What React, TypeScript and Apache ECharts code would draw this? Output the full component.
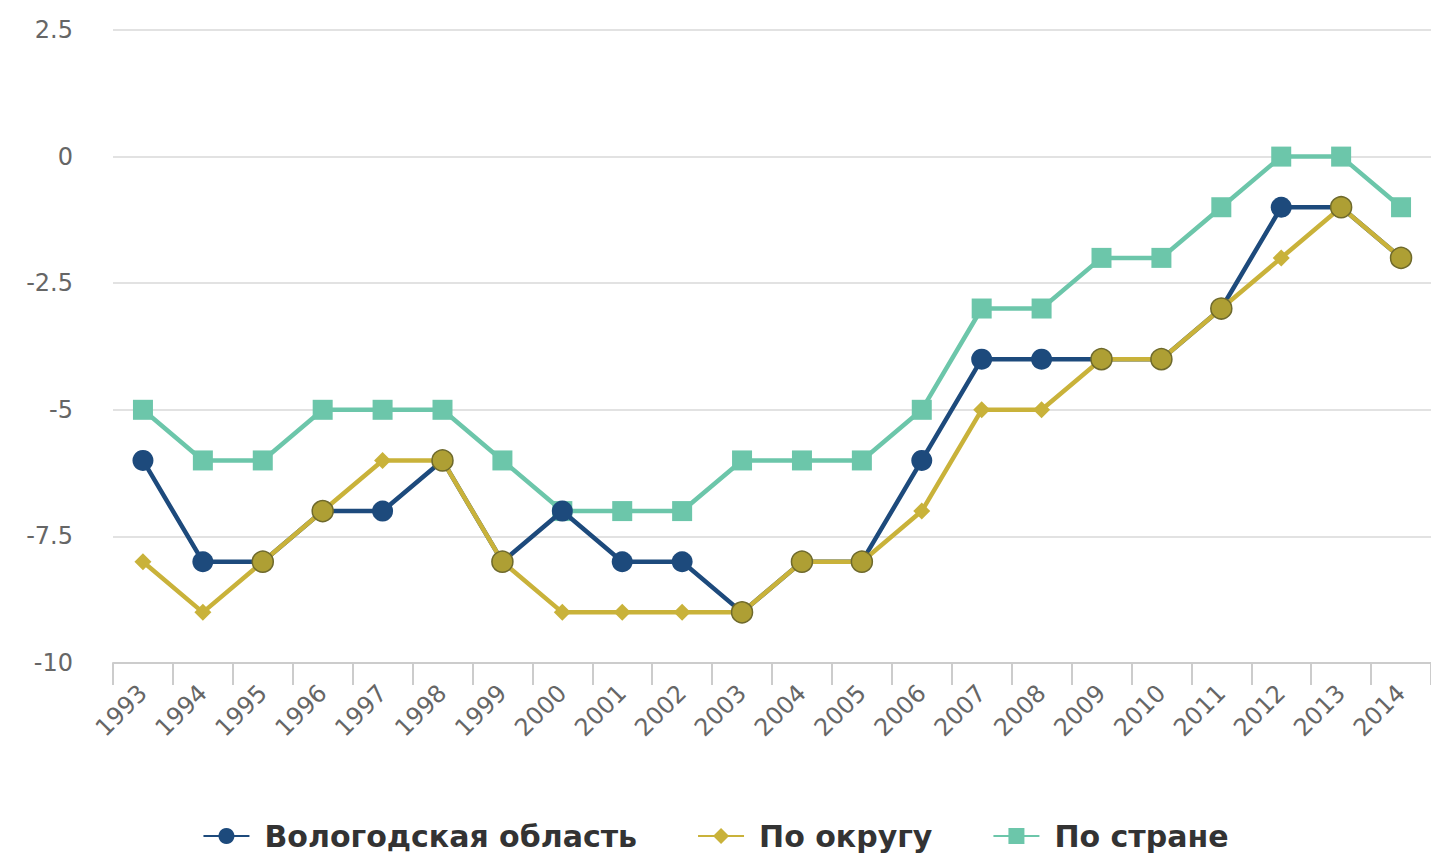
import React, { useEffect, useRef } from "react";
import * as echarts from "echarts";

const years = ["1993","1994","1995","1996","1997","1998","1999","2000","2001","2002","2003","2004","2005","2006","2007","2008","2009","2010","2011","2012","2013","2014"];
const vologda = [-6,-8,-8,-7,-7,-6,-8,-7,-8,-8,-9,-8,-8,-6,-4,-4,-4,-4,-3,-1,-1,-2];
const okrug = [-8,-9,-8,-7,-6,-6,-8,-9,-9,-9,-9,-8,-8,-7,-5,-5,-4,-4,-3,-2,-1,-2];
const country = [-5,-6,-6,-5,-5,-5,-6,-7,-7,-7,-6,-6,-6,-5,-3,-3,-2,-2,-1,0,0,-1];
const yTicks = [-10, -7.5, -5, -2.5, 0, 2.5];

const BLUE = "#1d4a7c";
const GOLD = "#c9b23a";
const TEAL = "#6cc6aa";

export default function App() {
  const ref = useRef<HTMLDivElement>(null);
  useEffect(() => {
    if (!ref.current) return;
    const chart = echarts.init(ref.current, undefined, { renderer: "svg" });
    const okrugData = okrug.map((v, i) =>
      v === vologda[i]
        ? { value: v, symbol: "circle", symbolSize: 21, itemStyle: { color: "#ae9f34", borderColor: "#6f6a2c", borderWidth: 1.5 } }
        : { value: v }
    );
    chart.setOption({
      animation: false,
      backgroundColor: "#ffffff",
      grid: { left: 113, right: 0, top: 30, bottom: 193, containLabel: false },
      xAxis: {
        type: "category",
        data: years,
        boundaryGap: true,
        axisLine: { show: true, onZero: false, lineStyle: { color: "#cccccc", width: 2 } },
        axisTick: { show: true, length: 22, lineStyle: { color: "#cccccc", width: 2 } },
        axisLabel: {
          rotate: 45,
          interval: 0,
          color: "#666666",
          fontSize: 24,
          fontFamily: "DejaVu Sans",
          margin: 26,
        },
        splitLine: { show: false },
      },
      yAxis: {
        type: "value",
        min: yTicks[0],
        max: yTicks[yTicks.length - 1],
        interval: 2.5,
        axisLine: { show: false },
        axisTick: { show: false },
        axisLabel: {
          color: "#666666",
          fontSize: 24,
          fontFamily: "DejaVu Sans",
          margin: 40,
          formatter: (v: number) => String(v),
        },
        splitLine: { show: true, lineStyle: { color: "#e2e2e2", width: 2 } },
      },
      legend: {
        bottom: 0,
        left: "center",
        itemWidth: 46,
        itemHeight: 20,
        itemGap: 60,
        textStyle: { fontSize: 30, fontWeight: "bold", color: "#333333", fontFamily: "DejaVu Sans", padding: [0, 0, 0, 10] },
        data: ["Вологодская область", "По округу", "По стране"],
      },
      series: [
        {
          name: "По стране",
          type: "line",
          data: country,
          symbol: "rect",
          symbolSize: 20,
          lineStyle: { color: TEAL, width: 4.5 },
          itemStyle: { color: TEAL },
          z: 2,
        },
        {
          name: "Вологодская область",
          type: "line",
          data: vologda,
          symbol: "circle",
          symbolSize: 21,
          lineStyle: { color: BLUE, width: 4.5 },
          itemStyle: { color: BLUE },
          z: 3,
        },
        {
          name: "По округу",
          type: "line",
          data: okrugData,
          symbol: "diamond",
          symbolSize: 17,
          lineStyle: { color: GOLD, width: 4.5 },
          itemStyle: { color: GOLD },
          z: 4,
        },
      ],
    });
    return () => chart.dispose();
  }, []);
  return <div ref={ref} style={{ position: "fixed", left: 0, top: 0, width: 1431, height: 856 }} />;
}
